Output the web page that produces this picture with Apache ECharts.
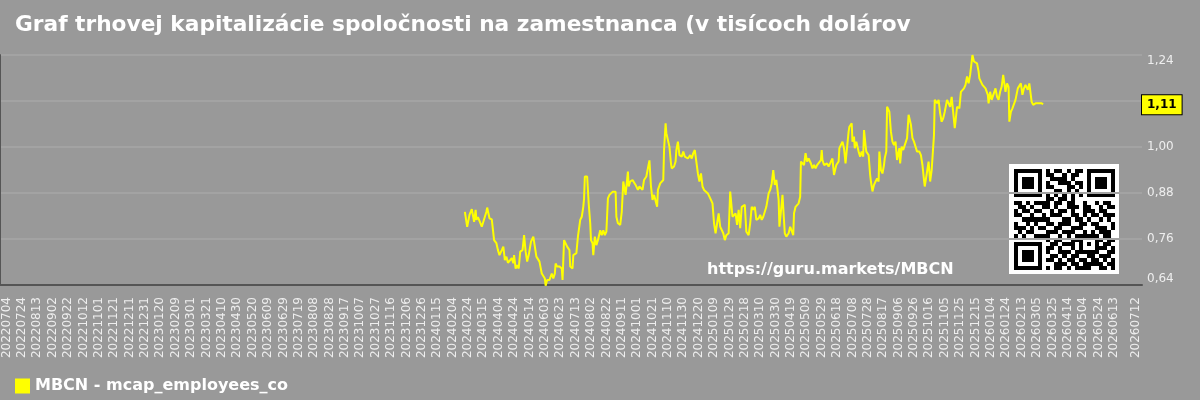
<!DOCTYPE html>
<html lang="sk">
<head>
  <meta charset="utf-8">
  <script src="https://cdn.jsdelivr.net/npm/echarts@6/dist/echarts.min.js"></script>
</head>
<body style="margin: 0; background: #999999">
  <div id="chart" style="width: 1200px; height: 400px"></div>
  <script>
    // x axis: one category per calendar day
    var axisFirstDay = '20220626';
    var axisLastDay = '20260719';
    var labelFirstDay = '20220704';
    var labelStepDays = 20;
    var labelExtraDay = '20260712';
    var labelSkipDay = '20260703';

    var seriesName = 'MBCN - mcap_employees_co';
    // [days after 2022-07-04, value]
    var mcapPoints = [
      [596,0.831],[599,0.792],[602,0.823],[605,0.838],[608,0.805],[610,0.836],[611,0.810],[613,0.817],[615,0.814],[618,0.792],
      [620,0.805],[622,0.805],[624,0.831],[625,0.842],[628,0.814],[631,0.811],[633,0.810],[634,0.757],[637,0.749],[639,0.731],
      [641,0.718],[644,0.731],[646,0.740],[648,0.705],[650,0.714],[652,0.698],[654,0.701],[657,0.710],[659,0.697],[660,0.718],
      [662,0.683],[664,0.692],[666,0.683],[668,0.727],[671,0.731],[673,0.770],[675,0.727],[677,0.701],[679,0.718],[682,0.753],
      [685,0.766],[687,0.762],[689,0.714],[691,0.710],[693,0.701],[696,0.670],[698,0.666],[700,0.657],[701,0.638],[703,0.653],
      [706,0.653],[709,0.670],[711,0.657],[713,0.670],[714,0.696],[716,0.688],[719,0.688],[722,0.683],[723,0.653],[725,0.757],
      [727,0.762],[729,0.740],[732,0.731],[733,0.688],[736,0.683],[737,0.718],[739,0.714],[741,0.723],[743,0.766],[746,0.810],
      [748,0.818],[750,0.844],[751,0.866],[752,0.923],[754,0.918],[755,0.923],[757,0.853],[759,0.801],[760,0.757],[762,0.749],
      [763,0.718],[765,0.766],[767,0.744],[769,0.757],[772,0.783],[774,0.770],[776,0.783],[778,0.770],[780,0.779],[782,0.866],
      [784,0.875],[786,0.870],[788,0.883],[790,0.883],[792,0.883],[793,0.818],[795,0.801],[798,0.797],[800,0.831],[802,0.910],
      [804,0.905],[805,0.875],[808,0.936],[809,0.897],[811,0.910],[814,0.914],[816,0.910],[818,0.901],[821,0.888],[823,0.897],
      [825,0.892],[827,0.888],[829,0.914],[832,0.923],[834,0.945],[836,0.965],[838,0.897],[840,0.862],[842,0.875],[844,0.870],
      [846,0.844],[847,0.888],[850,0.905],[852,0.910],[854,0.914],[855,0.992],[857,1.062],[858,1.036],[860,1.036],[862,1.001],
      [864,0.957],[865,0.944],[868,0.949],[870,0.962],[871,0.992],[873,1.014],[875,0.979],[877,0.984],[878,0.975],[880,0.988],
      [882,0.975],[884,0.979],[886,0.970],[889,0.979],[891,0.970],[893,0.984],[895,0.992],[897,0.988],[899,0.931],[901,0.910],
      [903,0.931],[905,0.897],[907,0.888],[909,0.888],[912,0.879],[914,0.884],[916,0.862],[918,0.853],[920,0.801],[922,0.775],
      [924,0.775],[926,0.827],[928,0.792],[930,0.788],[932,0.775],[934,0.757],[936,0.770],[939,0.775],[941,0.884],[942,0.862],
      [944,0.818],[946,0.814],[948,0.827],[950,0.797],[952,0.836],[954,0.788],[956,0.844],[958,0.840],[960,0.849],[962,0.779],
      [965,0.770],[967,0.801],[969,0.844],[971,0.836],[973,0.844],[975,0.810],[978,0.814],[980,0.823],[982,0.810],[984,0.818],
      [986,0.831],[988,0.844],[991,0.879],[993,0.888],[995,0.905],[997,0.940],[999,0.901],[1001,0.914],[1002,0.897],[1004,0.862],
      [1005,0.792],[1007,0.788],[1008,0.853],[1009,0.875],[1011,0.870],[1012,0.775],[1014,0.766],[1017,0.775],[1019,0.792],[1021,0.792],
      [1023,0.770],[1024,0.827],[1026,0.844],[1027,0.844],[1030,0.853],[1032,0.870],[1033,0.962],[1035,0.957],[1037,0.953],[1039,0.984],
      [1041,0.962],[1043,0.970],[1046,0.957],[1048,0.944],[1050,0.953],[1052,0.944],[1054,0.953],[1056,0.949],[1059,0.966],[1060,0.992],
      [1061,0.966],[1063,0.953],[1065,0.949],[1067,0.957],[1069,0.949],[1072,0.962],[1074,0.970],[1076,0.927],[1077,0.936],[1079,0.953],
      [1082,0.962],[1083,0.997],[1085,0.992],[1087,1.014],[1089,0.997],[1091,0.957],[1092,0.979],[1095,1.040],[1096,1.053],[1099,1.062],
      [1100,1.014],[1102,1.027],[1103,0.997],[1105,1.014],[1108,0.988],[1110,0.975],[1112,0.988],[1114,0.975],[1115,1.044],[1117,1.005],
      [1118,0.988],[1121,0.979],[1123,0.927],[1124,0.910],[1126,0.884],[1128,0.901],[1130,0.910],[1132,0.918],[1134,0.910],[1135,0.988],
      [1137,0.940],[1139,0.931],[1141,0.953],[1142,0.971],[1144,0.988],[1145,1.105],[1148,1.092],[1150,1.040],[1152,1.014],[1154,1.005],
      [1156,1.014],[1158,0.966],[1161,0.997],[1162,0.957],[1164,1.001],[1166,0.992],[1168,1.005],[1171,1.023],[1173,1.084],[1174,1.088],
      [1176,1.058],[1178,1.023],[1180,1.014],[1182,1.014],[1184,0.988],[1187,0.988],[1189,0.979],[1191,0.953],[1193,0.914],[1194,0.897],
      [1197,0.936],[1199,0.962],[1201,0.910],[1203,0.940],[1204,0.936],[1206,1.031],[1207,1.123],[1210,1.114],[1212,1.123],[1214,1.088],
      [1216,1.066],[1218,1.075],[1220,1.092],[1223,1.123],[1225,1.123],[1227,1.105],[1229,1.131],[1231,1.136],[1233,1.049],[1234,1.066],
      [1236,1.105],[1239,1.101],[1241,1.144],[1243,1.149],[1245,1.153],[1247,1.162],[1249,1.184],[1251,1.166],[1253,1.188],[1254,1.205],
      [1256,1.240],[1258,1.223],[1259,1.227],[1262,1.218],[1264,1.197],[1265,1.179],[1267,1.179],[1269,1.162],[1271,1.166],[1273,1.153],
      [1276,1.136],[1277,1.114],[1279,1.144],[1281,1.123],[1283,1.118],[1286,1.153],[1288,1.131],[1290,1.123],[1292,1.144],[1294,1.157],
      [1296,1.188],[1299,1.144],[1301,1.166],[1303,1.157],[1304,1.066],[1306,1.092],[1308,1.101],[1310,1.105],[1312,1.123],[1315,1.153],
      [1317,1.157],[1319,1.166],[1321,1.136],[1323,1.153],[1325,1.162],[1328,1.149],[1330,1.166],[1331,1.166],[1333,1.118],[1335,1.110],
      [1338,1.114],[1340,1.110],[1342,1.114],[1344,1.114],[1346,1.114],[1348,1.112]
    ];

    var yMin = 0.64, yMax = 1.24, yStep = 0.12;

    // qr code in the lower right corner, 1 = dark module
    var qrRows = [
      '1111111010110101101111111',
      '1000001011001011001000001',
      '1011101001111010001011101',
      '1011101010011101101011101',
      '1011101011000110101011101',
      '1000001000110101001000001',
      '1111111010101010101111111',
      '0000000011011010000000000',
      '1101011110110110010010110',
      '0110100110100111011001011',
      '1011011001011010011101100',
      '1100100101110011010110111',
      '0011111110001101101001010',
      '1001010011011100110110001',
      '1110101100110011100011101',
      '0101100011101110010101110',
      '1010011110010101111110110',
      '0000000010110011100011011',
      '1111111001101110101010110',
      '1000001011010010100011101',
      '1011101010011101111110011',
      '1011101001101011001101110',
      '1011101011010110110110101',
      '1000001000111011011111011',
      '1111111010110101111001101'
    ];

    function parseDay(s) {
      return new Date(Date.UTC(+s.slice(0, 4), +s.slice(4, 6) - 1, +s.slice(6, 8)));
    }
    function fmtDay(d) {
      var m = d.getUTCMonth() + 1, day = d.getUTCDate();
      return d.getUTCFullYear() + (m < 10 ? '0' : '') + m + (day < 10 ? '0' : '') + day;
    }
    function addDays(s, n) {
      var d = parseDay(s);
      d.setUTCDate(d.getUTCDate() + n);
      return fmtDay(d);
    }

    var categories = [];
    for (var d = parseDay(axisFirstDay); fmtDay(d) <= axisLastDay; d.setUTCDate(d.getUTCDate() + 1)) {
      categories.push(fmtDay(d));
    }
    var labelOffset = categories.indexOf(labelFirstDay);

    var seriesData = mcapPoints.map(function (p) {
      return [addDays(labelFirstDay, p[0]), p[1]];
    });
    var lastValue = mcapPoints[mcapPoints.length - 1][1];

    function comma(v, n) {
      return v.toFixed(n).replace('.', ',');
    }

    // qr modules as graphic rects
    var qrX = 1014, qrY = 169, qrCell = 4.04;
    var qrChildren = [{
      type: 'rect',
      shape: { x: 1009, y: 164, width: 110, height: 110 },
      style: { fill: '#ffffff' }
    }];
    qrRows.forEach(function (row, r) {
      for (var c = 0; c < row.length; c++) {
        if (row[c] === '1') {
          var x0 = Math.round(qrX + c * qrCell), y0 = Math.round(qrY + r * qrCell);
          var x1 = Math.round(qrX + (c + 1) * qrCell), y1 = Math.round(qrY + (r + 1) * qrCell);
          qrChildren.push({
            type: 'rect',
            shape: { x: x0, y: y0, width: x1 - x0, height: y1 - y0 },
            style: { fill: '#000000' }
          });
        }
      }
    });

    var dom = document.getElementById('chart');
    var myChart = echarts.init(dom, null, { renderer: 'canvas' });

    var option = {
      animation: false,
      backgroundColor: '#999999',
      textStyle: { fontFamily: 'DejaVu Sans' },
      title: {
        text: 'Graf trhovej kapitalizácie spoločnosti na zamestnanca (v tisícoch dolárov',
        left: 10,
        top: 9,
        textStyle: { color: '#ffffff', fontSize: 21.7, fontWeight: 'bold', fontFamily: 'DejaVu Sans' }
      },
      legend: {
        left: 10,
        top: 373,
        icon: 'rect',
        itemWidth: 15,
        itemHeight: 15,
        itemGap: 10,
        textStyle: { color: '#ffffff', fontSize: 16, fontWeight: 'bold', fontFamily: 'DejaVu Sans' },
        data: [seriesName]
      },
      grid: { left: 0, right: 58, top: 55, bottom: 115 },
      xAxis: {
        type: 'category',
        data: categories,
        boundaryGap: true,
        axisLine: { show: true, lineStyle: { color: '#555555', width: 2 } },
        axisTick: { show: false },
        splitLine: { show: false },
        axisLabel: {
          rotate: 90,
          margin: 12,
          color: '#eeeeee',
          fontSize: 12,
          hideOverlap: false,
          interval: function (index, value) {
            if (value === labelExtraDay) return true;
            if (value === labelSkipDay) return false;
            return index >= labelOffset && (index - labelOffset) % labelStepDays === 0;
          }
        }
      },
      yAxis: [{
        type: 'value',
        position: 'right',
        min: yMin,
        max: yMax,
        interval: yStep,
        axisLine: { show: false },
        axisTick: { show: false },
        splitLine: { show: true, lineStyle: { color: '#a3a3a3', width: 2 } },
        axisLabel: {
          color: '#eeeeee',
          fontSize: 12,
          margin: 5,
          verticalAlignMinLabel: 'bottom',
          verticalAlignMaxLabel: 'top',
          formatter: function (v) { return comma(v, 2); }
        }
      }, {
        type: 'value',
        position: 'left',
        min: yMin,
        max: yMax,
        interval: yStep,
        axisLine: { show: true, lineStyle: { color: '#555555', width: 2 } },
        axisTick: { show: false },
        axisLabel: { show: false },
        splitLine: { show: false }
      }],
      graphic: [{
        type: 'text',
        left: 707,
        top: 262,
        style: {
          text: 'https://guru.markets/MBCN',
          fill: '#ffffff',
          font: 'bold 16px "DejaVu Sans"'
        }
      }, {
        type: 'group',
        children: qrChildren
      }],
      series: [{
        name: seriesName,
        type: 'line',
        data: seriesData,
        showSymbol: false,
        symbol: 'none',
        itemStyle: { color: '#ffff00' },
        lineStyle: { color: '#ffff00', width: 2 },
        markLine: {
          silent: true,
          symbol: ['none', 'none'],
          lineStyle: { color: 'rgba(0,0,0,0)', width: 0 },
          label: {
            show: true,
            position: 'end',
            distance: 0,
            color: '#000000',
            fontWeight: 'bold',
            fontSize: 12,
            backgroundColor: '#ffff00',
            borderColor: '#000000',
            borderWidth: 1,
            padding: [4, 5, 3, 5],
            formatter: function () { return comma(lastValue, 2); }
          },
          data: [{ yAxis: lastValue }]
        }
      }]
    };

    myChart.setOption(option);
    window.addEventListener('resize', myChart.resize);
  </script>
</body>
</html>
